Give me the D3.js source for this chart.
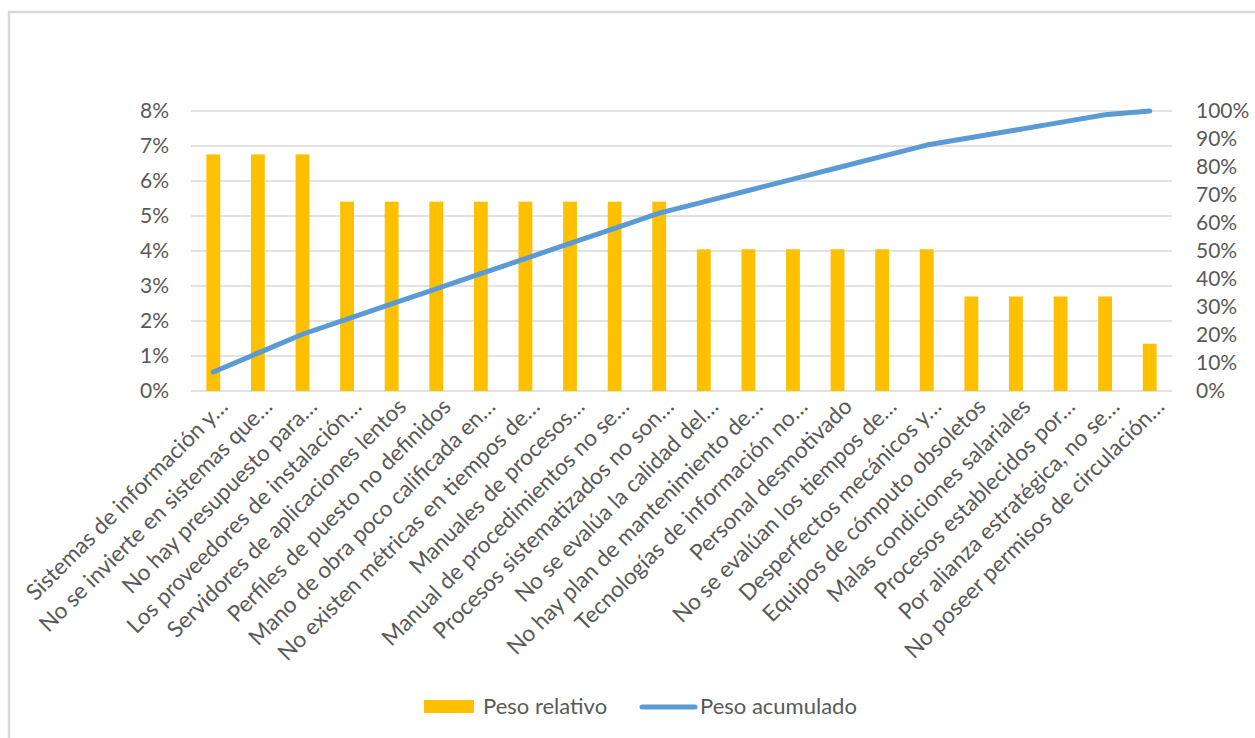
<!DOCTYPE html>
<html><head><meta charset="utf-8">
<script src="https://cdn.jsdelivr.net/npm/d3@7"></script>
<style>body{margin:0;background:#fff}svg text{font-family:Lato,"Open Sans",sans-serif;fill:#595959}</style>
</head><body>
<svg id="chart" width="1255" height="738"></svg>
<script>
const categories = [
  "Sistemas de información y…",
  "No se invierte en sistemas que…",
  "No hay presupuesto para…",
  "Los proveedores de instalación…",
  "Servidores de aplicaciones lentos",
  "Perfiles de puesto no definidos",
  "Mano de obra poco calificada en…",
  "No existen métricas en tiempos de…",
  "Manuales de procesos…",
  "Manual de procedimientos no se…",
  "Procesos sistematizados no son…",
  "No se evalúa la calidad del…",
  "No hay plan de mantenimiento de…",
  "Tecnologías de información no…",
  "Personal desmotivado",
  "No se evalúan los tiempos de…",
  "Desperfectos mecánicos y…",
  "Equipos de cómputo obsoletos",
  "Malas condiciones salariales",
  "Procesos establecidos por…",
  "Por alianza estratégica, no se…",
  "No poseer permisos de circulación…"
];
const pesoRelativo = [6.76,6.76,6.76,5.41,5.41,5.41,5.41,5.41,5.41,5.41,5.41,4.05,4.05,4.05,4.05,4.05,4.05,2.70,2.70,2.70,2.70,1.35];
const pesoAcumulado = [6.76,13.51,20.27,25.68,31.08,36.49,41.89,47.30,52.70,58.11,63.51,67.57,71.62,75.68,79.73,83.78,87.84,90.54,93.24,95.95,98.65,100.00];
const leftTicks = [0,1,2,3,4,5,6,7,8];
const rightTicks = [0,10,20,30,40,50,60,70,80,90,100];
const seriesNames = ["Peso relativo","Peso acumulado"];

const svg = d3.select("#chart");
const W = 1255, H = 738;
const plot = {left:191, right:1172, top:111, bottom:391};

// chart border
svg.append("rect").attr("x",9).attr("y",12).attr("width",W+20).attr("height",H+20)
  .attr("fill","none").attr("stroke","#d9d9d9").attr("stroke-width",2.5);

const x = d3.scaleBand().domain(categories).range([plot.left, plot.right])
  .paddingInner(0.69).paddingOuter(0.345);
const yL = d3.scaleLinear().domain([0,8]).range([plot.bottom, plot.top]);
const yR = d3.scaleLinear().domain([0,100]).range([plot.bottom, plot.top]);

// gridlines
svg.append("g").selectAll("line").data(leftTicks).join("line")
  .attr("x1",plot.left).attr("x2",plot.right)
  .attr("y1",d=>yL(d)).attr("y2",d=>yL(d))
  .attr("stroke","#d9d9d9").attr("stroke-width",1.5);

// left axis
const axL = svg.append("g").attr("transform",`translate(${plot.left-22},0)`)
  .call(d3.axisLeft(yL).tickValues(leftTicks).tickFormat(d=>d+"%").tickSize(0).tickPadding(0));
axL.select(".domain").remove();
axL.selectAll("text").style("font-size","21px").attr("fill","#595959");

// right axis
const axR = svg.append("g").attr("transform",`translate(${plot.right+24},0)`)
  .call(d3.axisRight(yR).tickValues(rightTicks).tickFormat(d=>d+"%").tickSize(0).tickPadding(0));
axR.select(".domain").remove();
axR.selectAll("text").style("font-size","21px").attr("fill","#595959");

// bars
svg.append("g").selectAll("rect").data(categories).join("rect")
  .attr("x",d=>x(d)).attr("width",x.bandwidth())
  .attr("y",(d,i)=>yL(pesoRelativo[i]))
  .attr("height",(d,i)=>yL(0)-yL(pesoRelativo[i]))
  .attr("fill","#ffc000");

// line
const line = d3.line().x((d,i)=>x(categories[i])+x.bandwidth()/2).y(d=>yR(d));
svg.append("path").datum(pesoAcumulado).attr("d",line)
  .attr("fill","none").attr("stroke","#5b9bd5").attr("stroke-width",5)
  .attr("stroke-linecap","round").attr("stroke-linejoin","round");

// category labels
const axB = svg.append("g").attr("transform",`translate(0,${plot.bottom})`)
  .call(d3.axisBottom(x).tickSize(0).tickPadding(0));
axB.select(".domain").remove();
axB.selectAll("text")
  .style("font-size","22.6px").attr("fill","#595959")
  .attr("text-anchor","end")
  .attr("dy","0")
  .attr("transform",d=>`translate(${x.bandwidth()/2 + 9},17) rotate(-45)`)
  .attr("y",0).attr("x",0);

// legend
const lg = svg.append("g");
lg.append("rect").attr("x",424).attr("y",700).attr("width",50).attr("height",13).attr("fill","#ffc000");
lg.append("text").attr("x",483).attr("y",714).style("font-size","22px").text(seriesNames[0]);
lg.append("line").attr("x1",642).attr("x2",695).attr("y1",707).attr("y2",707)
  .attr("stroke","#5b9bd5").attr("stroke-width",5).attr("stroke-linecap","round");
lg.append("text").attr("x",700).attr("y",714).style("font-size","22px").text(seriesNames[1]);
</script>
</body></html>
